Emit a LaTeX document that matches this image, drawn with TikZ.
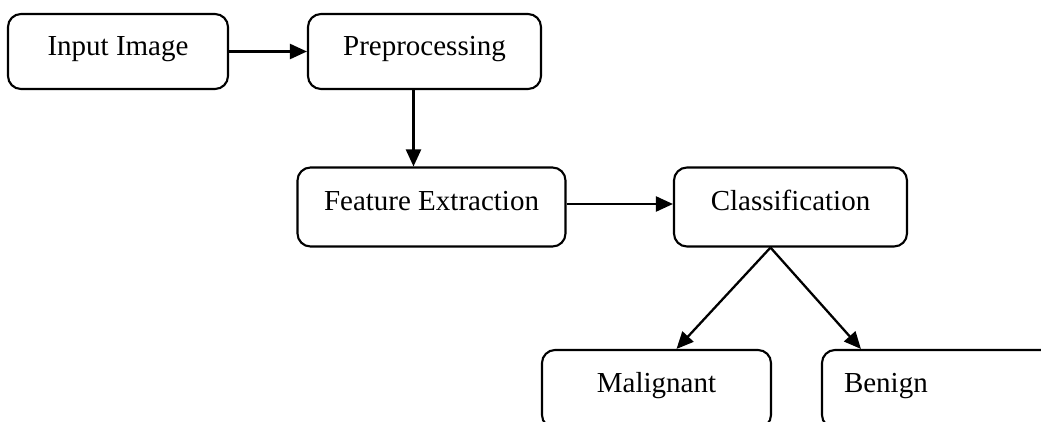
\documentclass[tikz,border=0pt]{standalone}
\usepackage{fontspec}
\setmainfont{Liberation Serif}
\usetikzlibrary{arrows.meta}
\begin{document}
\begin{tikzpicture}[x=1pt,y=-1pt,
  box/.style={draw, line width=2.1pt, rounded corners=13pt, inner sep=0pt,
    font=\fontsize{29}{34}\selectfont, text height=20pt, text depth=13pt},
  arr/.style={line width=2.3pt, -{Triangle[length=17pt,width=15pt]}}]
\useasboundingbox (0,0) rectangle (1041,421);
\clip (0,0) rectangle (1041,421);
\node[box, minimum width=220pt, minimum height=75pt] (in) at (118,51.5) {Input Image};
\node[box, minimum width=233pt, minimum height=75pt] (pre) at (424.5,51.5) {Preprocessing};
\node[box, minimum width=268pt, minimum height=79pt] (fe) at (431.5,207) {Feature Extraction};
\node[box, minimum width=233pt, minimum height=79pt] (cls) at (790.5,207) {Classification};
\node[box, minimum width=229pt, minimum height=78pt] (mal) at (656.5,389) {Malignant};
\node[box, minimum height=78pt, text width=200pt, inner xsep=22pt, align=left] (ben) at (944,389) {Benign};
\draw[arr] (in.east) -- (pre.west);
\draw[arr] ([xshift=-11pt]pre.south) -- ([xshift=-11pt]pre.south |- fe.north);
\draw[arr] ([yshift=3pt]fe.east) -- ([yshift=3pt]fe.east -| cls.west);
\draw[arr] ([xshift=-20pt]cls.south) -- ([xshift=20pt]mal.north);
\draw[arr] ([xshift=-20pt]cls.south) -- ([xshift=40pt]ben.north west);
\end{tikzpicture}
\end{document}
